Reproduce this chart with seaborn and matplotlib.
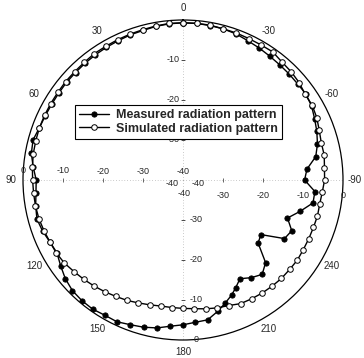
import numpy as np
import matplotlib
matplotlib.use("Agg")
import matplotlib.pyplot as plt
import seaborn as sns

# ---------------- data (angles in degrees, CCW from top; values in dB) -------------
sim_angle = list(range(0, 360, 5))
sim_db = [-0.7, -0.7, -0.9, -1.1, -1.2, -1.3, -1.4, -1.4, -1.6, -1.7, -1.7, -1.8,
          -1.8, -1.8, -1.8, -1.9, -2.0, -2.2, -2.4, -2.5, -2.55, -2.7, -3.0, -3.3,
          -3.45, -3.8, -4.4, -4.9, -5.4, -5.9, -6.4, -6.8, -7.3, -7.7, -8.0, -8.0,
          -7.9, -7.7, -7.3, -6.9, -6.6, -5.9, -5.7, -5.5, -5.35, -5.2, -5.2, -5.1,
          -5.25, -5.3, -5.3, -5.2, -5.3, -5.05, -4.6, -4.5, -4.15, -4.2, -3.75, -3.1,
          -2.7, -2.7, -2.1, -1.75, -1.5, -0.9, -1.0, -1.0, -0.9, -0.9, -0.7, -0.7]

meas_angle = [0, 5, 10, 15, 20, 25, 30, 35, 40, 45, 50, 55, 60, 65, 70, 75, 80, 85,
              90, 95, 100, 105, 110, 115, 120, 125, 130, 135, 140, 145, 150, 155,
              160, 165, 170, 175, 180, 185, 190, 195, 199, 203, 206, 210, 215, 220,
              225, 230, 235, 240, 245, 250, 255, 260, 265, 270, 275, 280, 285, 290,
              295, 300, 305, 310, 315, 320, 325, 330, 335, 340, 345, 350, 355]
meas_db = [-0.7, -0.8, -1.0, -1.3, -1.4, -1.6, -1.7, -1.8, -1.9, -2.0, -2.0, -2.1,
           -2.1, -2.0, -1.8, -1.2, -1.5, -2.4, -3.3, -3.1, -2.6, -2.2, -2.65, -3.3,
           -3.6, -2.65, -1.6, -0.9, -0.65, -0.6, -0.95, -0.9, -1.5, -1.9, -2.45,
           -3.3, -3.8, -4.3, -4.5, -6.1, -7.5, -8.8, -10.0, -11.5, -10.2, -9.2,
           -10.8, -15.5, -16.2, -10.7, -10.0, -12.2, -9.7, -7.0, -6.9, -9.6, -8.9,
           -6.3, -5.2, -4.4, -3.7, -2.9, -2.5, -2.6, -2.5, -2.4, -2.2, -1.9, -1.6,
           -1.15, -0.9, -0.8, -0.7]

angle_ticks = [0, 30, 60, 90, 120, 150, 180, 210, 240, 270, 300, 330]
angle_labels = ["0", "30", "60", "90", "120", "150", "180", "210", "240",
                "-90", "-60", "-30"]
db_ticks = [-30, -20, -10]
db_min = -40
series_names = ["Measured radiation pattern", "Simulated radiation pattern"]

# ---------------- figure -------------
sns.set_style("white")
plt.rcParams["font.family"] = ["Liberation Sans", "DejaVu Sans"]

W, H = 364, 358
fig = plt.figure(figsize=(W / 100, H / 100), dpi=100)
R = 160
cx, cy = 183, 180
ax = fig.add_axes([(cx - R) / W, (H - cy - R) / H, 2 * R / W, 2 * R / H],
                  projection="polar")
ax.set_theta_zero_location("N")
ax.set_theta_direction(1)
ax.set_ylim(0, -db_min)
ax.grid(False)
ax.set_yticks([])
ax.set_xticks(np.deg2rad(angle_ticks))
ax.set_xticklabels([])
ax.tick_params(axis="x", direction="in", length=3, width=0.8, color="black")
ax.spines["polar"].set_linewidth(0.9)
ax.spines["polar"].set_color("black")

def to_r(vals):
    return [v - db_min for v in vals]

def closed(a, v):
    return list(a) + [a[0]], list(v) + [v[0]]

ma, mv = closed(meas_angle, meas_db)
sa, sv = closed(sim_angle, sim_db)

# faint dotted axes
for th in [0, 90, 180, 270]:
    ax.plot([np.deg2rad(th)] * 2, [0, -db_min], color="0.6", lw=0.5,
            linestyle=(0, (1, 3)), zorder=1)
# small axis ticks
for th, mk in [(90, "|"), (270, "|"), (0, "_"), (180, "_")]:
    ax.plot([np.deg2rad(th)] * 3, to_r(db_ticks), linestyle="none", marker=mk,
            markersize=3, markeredgewidth=0.6, color="0.3", zorder=1)

sns.lineplot(x=np.deg2rad(ma), y=to_r(mv), ax=ax, sort=False, estimator=None,
             color="black", linewidth=1.0, marker="o", markersize=3.8,
             markerfacecolor="black", markeredgecolor="black",
             markeredgewidth=0.6, label=series_names[0], zorder=3)
sns.lineplot(x=np.deg2rad(sa), y=to_r(sv), ax=ax, sort=False, estimator=None,
             color="black", linewidth=1.0, marker="o", markersize=4.0,
             markerfacecolor="white", markeredgecolor="black",
             markeredgewidth=0.7, label=series_names[1], zorder=4)
ax.set_xlabel("")
ax.set_ylabel("")

# angle labels
for a, lab in zip(angle_ticks, angle_labels):
    ax.text(np.deg2rad(a), 43.0, lab, ha="center", va="center", fontsize=7,
            clip_on=False)

PT = 0.72  # points per pixel
def rlab(theta, dbv, text, dx, dy):
    ax.annotate(text, xy=(np.deg2rad(theta), dbv - db_min), xytext=(dx * PT, dy * PT),
                textcoords="offset points", ha="center", va="center", fontsize=6.5,
                annotation_clip=False)

for d in db_ticks + [0]:
    rlab(90, d, "%d" % d if d else "0", 0, 9)
    rlab(270, d, "%d" % d if d else "0", 0, -15)
    rlab(180, d, "%d" % d if d else "0", 13, 0)
for d in db_ticks:
    rlab(0, d, "%d" % d, -10, 0)
rlab(0, db_min, "-40", 0, 9)
rlab(90, db_min, "-40", -11, -3)
rlab(270, db_min, "-40", 15, -3)
rlab(180, db_min, "-40", 1, -14)

leg = ax.legend(loc="upper left", bbox_to_anchor=(75 / W, 1 - 105 / H),
                bbox_transform=fig.transFigure, borderaxespad=0,
                prop={"weight": "bold", "size": 9}, frameon=True, fancybox=False,
                edgecolor="black", framealpha=1, handlelength=2.4,
                handletextpad=0.5, labelspacing=0.1, borderpad=0.35)
leg.get_frame().set_linewidth(0.8)
leg.set_zorder(10)

fig.savefig("out.png", dpi=100)
